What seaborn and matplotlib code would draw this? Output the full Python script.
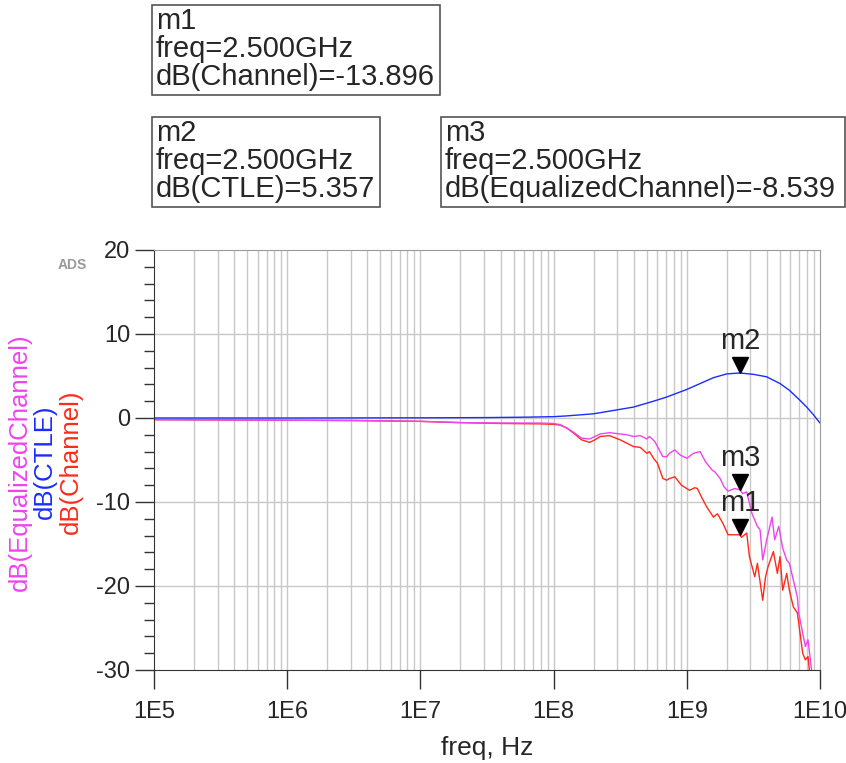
import numpy as np
import pandas as pd
import seaborn as sns
from matplotlib import pyplot as plt
from matplotlib.patches import Rectangle
from matplotlib.transforms import offset_copy
from matplotlib.ticker import FixedLocator, NullFormatter

sns.set_style("white")
plt.rcParams['font.family'] = ['Liberation Sans', 'DejaVu Sans']
plt.rcParams['axes.unicode_minus'] = False

# ---------------------------------
# DATA (log10 of freq in Hz, dB)

chan_logf = [5.0, 5.8, 6.5, 7.0, 7.3, 7.6, 7.9, 8.0, 8.05, 8.1, 8.15, 8.21, 8.27, 8.31,
             8.35, 8.42, 8.5, 8.55, 8.6, 8.65, 8.7, 8.72, 8.75, 8.78, 8.82, 8.85, 8.87,
             8.91, 8.96, 9.02, 9.06, 9.08, 9.11, 9.15, 9.2, 9.23, 9.27, 9.31, 9.36,
             9.398, 9.41, 9.45, 9.47, 9.51, 9.53, 9.55, 9.57, 9.59, 9.61, 9.65, 9.68,
             9.7, 9.72, 9.75, 9.77, 9.8, 9.83, 9.85, 9.87, 9.89, 9.91, 9.92, 9.94]
chan_db = [-0.2, -0.25, -0.3, -0.4, -0.55, -0.65, -0.7, -0.75, -0.85, -1.2, -1.8, -2.6,
           -2.9, -2.6, -2.2, -2.1, -2.6, -3.0, -3.4, -3.5, -4.2, -4.0, -4.8, -5.4, -7.2,
           -7.4, -7.2, -7.0, -8.0, -8.6, -8.3, -8.4, -9.4, -10.6, -11.8, -11.4, -12.5,
           -13.9, -13.9, -13.896, -14.2, -13.7, -16.5, -18.9, -17.3, -19.5, -21.7,
           -19.0, -17.7, -15.9, -18.5, -16.5, -20.5, -18.5, -20.5, -22.5, -23.2, -25.6,
           -28.0, -28.8, -28.4, -30.0, -31.5]

eq_logf = [5.0, 5.8, 6.5, 7.0, 7.3, 7.6, 7.9, 8.0, 8.05, 8.1, 8.15, 8.21, 8.27, 8.31,
           8.35, 8.42, 8.5, 8.55, 8.6, 8.65, 8.7, 8.72, 8.76, 8.8, 8.82, 8.85, 8.87,
           8.91, 8.95, 9.0, 9.05, 9.1, 9.14, 9.16, 9.19, 9.21, 9.25, 9.28, 9.31, 9.36,
           9.398, 9.42, 9.45, 9.49, 9.53, 9.55, 9.57, 9.6, 9.64, 9.66, 9.69, 9.72,
           9.75, 9.77, 9.8, 9.83, 9.84, 9.87, 9.89, 9.91, 9.94, 9.95]
eq_db = [-0.2, -0.25, -0.3, -0.4, -0.55, -0.6, -0.6, -0.65, -0.8, -1.2, -1.7, -2.4,
         -2.5, -2.2, -1.9, -1.75, -1.9, -2.0, -2.2, -2.1, -2.5, -2.2, -2.8, -4.0, -4.6,
         -4.6, -4.2, -3.8, -4.4, -4.8, -4.2, -4.0, -5.2, -5.6, -6.2, -6.4, -7.2, -8.2,
         -8.7, -8.4, -8.539, -9.0, -8.8, -11.4, -12.9, -13.3, -16.9, -14.5, -11.8,
         -14.5, -12.9, -15.5, -16.9, -17.3, -19.3, -21.3, -23.2, -25.6, -27.2, -26.4,
         -30.5, -32.0]

ctle_logf = [5.0, 6.0, 7.0, 7.5, 7.8, 8.0, 8.1, 8.3, 8.45, 8.6, 8.75, 8.85, 9.0, 9.1,
             9.2, 9.3, 9.398, 9.5, 9.6, 9.7, 9.77, 9.85, 9.9, 9.95, 10.0]
ctle_db = [0.0, 0.0, 0.02, 0.05, 0.1, 0.16, 0.25, 0.5, 0.9, 1.3, 2.0, 2.5, 3.4, 4.1,
           4.8, 5.25, 5.357, 5.2, 4.9, 4.1, 3.3, 2.1, 1.3, 0.4, -0.6]

marker_freq = 2.5e9
marker_vals = {"m1": -13.896, "m2": 5.357, "m3": -8.539}
marker_text = {
    "m1": "m1\nfreq=2.500GHz\ndB(Channel)=-13.896",
    "m2": "m2\nfreq=2.500GHz\ndB(CTLE)=5.357",
    "m3": "m3\nfreq=2.500GHz\ndB(EqualizedChannel)=-8.539",
}

c_eq = '#ee44ee'
c_ctle = '#1a2cff'
c_chan = '#ff2a1a'

W, H = 846, 763
fig = plt.figure(figsize=(W / 100, H / 100), dpi=100)
ax = fig.add_axes([154 / W, 1 - 670 / H, (820 - 154) / W, (670 - 250) / H])

def px(x, y):
    return x / W, 1 - y / H

series = [(chan_logf, chan_db, c_chan), (eq_logf, eq_db, c_eq), (ctle_logf, ctle_db, c_ctle)]
for lf, db, c in series:
    df = pd.DataFrame({'freq': 10 ** np.array(lf), 'dB': db})
    sns.lineplot(data=df, x='freq', y='dB', color=c, lw=1.0, ax=ax,
                 estimator=None, sort=False)

ax.set_xscale('log')
ax.set_xlim(1e5, 1e10)
ax.set_ylim(-30, 20)

# grid
minor_x = [m * 10 ** d for d in range(5, 10) for m in range(2, 10)]
for xv in minor_x + [1e6, 1e7, 1e8, 1e9]:
    ax.axvline(xv, color='#c8c8c8', lw=1, zorder=0)
for yv in [-20, -10, 0, 10]:
    ax.axhline(yv, color='#c8c8c8', lw=1, zorder=0)

ax.set_xticks([1e5, 1e6, 1e7, 1e8, 1e9, 1e10])
ax.set_xticklabels(['1E5', '1E6', '1E7', '1E8', '1E9', '1E10'])
ax.xaxis.set_minor_locator(FixedLocator([]))
ax.xaxis.set_minor_formatter(NullFormatter())
ax.set_yticks([-30, -20, -10, 0, 10, 20])
ax.set_yticks(np.arange(-30, 21, 2), minor=True)
ax.tick_params(axis='both', which='major', labelsize=17, direction='out',
               length=14, width=1, color='#333333', pad=3, left=True, bottom=True)
ax.tick_params(axis='y', which='minor', direction='out', length=7, width=1,
               color='#333333', left=True)
ax.tick_params(axis='x', which='major', pad=8)

for s in ['left', 'bottom']:
    ax.spines[s].set_color('#333333')
for s in ['top', 'right']:
    ax.spines[s].set_color('#9a9a9a')

ax.set_xlabel('freq, Hz', fontsize=19, labelpad=10)
ax.set_ylabel('')

# coloured y labels
for xpix, txt, c in [(20, 'dB(EqualizedChannel)', c_eq), (45, 'dB(CTLE)', c_ctle),
                     (71, 'dB(Channel)', c_chan)]:
    fig.text(*px(xpix, 462), txt, rotation=90, color=c, fontsize=18.5,
             ha='center', va='center')

fig.text(*px(72, 265), 'ADS', color='#9a9a9a', fontsize=10, fontweight='bold',
         ha='center', va='center')

# markers
tri_tr = offset_copy(ax.transData, fig=fig, x=0, y=8, units='dots')
for name, val in marker_vals.items():
    ax.plot([marker_freq], [val], marker='v', color='black', markersize=12,
            transform=tri_tr, clip_on=False, zorder=5)
    ax.annotate(name, (marker_freq, val), xytext=(0, 18), textcoords='offset pixels',
                ha='center', va='bottom', fontsize=21, zorder=6)

# marker readout boxes
boxes = {"m1": (152, 5, 440, 95), "m2": (152, 117, 380, 207), "m3": (441, 117, 845, 207)}
for name, (x0, y0, x1, y1) in boxes.items():
    fig.patches.append(Rectangle(px(x0, y1), (x1 - x0) / W, (y1 - y0) / H,
                                 transform=fig.transFigure, fill=False,
                                 edgecolor='#555555', lw=1.2))
    fig.text(*px(x0 + 4, y0 + 2), marker_text[name], ha='left', va='top',
             fontsize=21, linespacing=1.0)

fig.savefig('out.png', dpi=100)
